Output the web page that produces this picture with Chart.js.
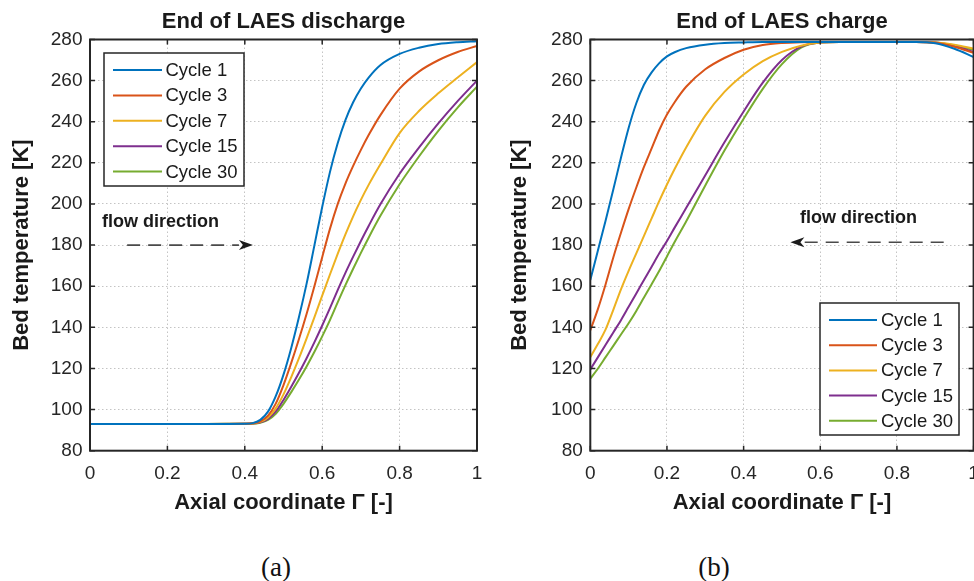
<!DOCTYPE html>
<html>
<head>
<meta charset="utf-8">
<script src="https://cdn.jsdelivr.net/npm/chart.js@4.4.1/dist/chart.umd.min.js"></script>
<style>
  body { margin: 0; background: #fff; width: 974px; height: 581px; overflow: hidden; position: relative; }
  canvas { position: absolute; top: 0; }
  #discharge-chart { left: 0; }
  #charge-chart { left: 497px; }
  .panel-label {
    position: absolute; top: 552px; width: 60px; margin-left: -30px; text-align: center;
    font: 27px "Liberation Serif", "Times New Roman", serif; line-height: 30px; color: #111;
  }
</style>
</head>
<body>
<canvas id="discharge-chart" width="487" height="520"></canvas>
<canvas id="charge-chart" width="477" height="520"></canvas>
<div class="panel-label" style="left:276px">(a)</div>
<div class="panel-label" style="left:714px">(b)</div>

<script>
const CYCLE_LABELS = ['Cycle 1', 'Cycle 3', 'Cycle 7', 'Cycle 15', 'Cycle 30'];
const CYCLE_COLORS = ['#0072BD', '#D95319', '#EDB120', '#7E2F8E', '#77AC30'];
const X_TICKS = [0, 0.2, 0.4, 0.6, 0.8, 1];
const Y_MIN = 80;
const Y_MAX = 280;
const Y_STEP = 20;

// (a) end of discharge
const X_DISCHARGE = [0, 0.1, 0.2, 0.3, 0.4, 0.42, 0.44, 0.46, 0.48, 0.5, 0.52, 0.54, 0.56, 0.58, 0.6,
    0.62, 0.64, 0.66, 0.68, 0.7, 0.72, 0.75, 0.8, 0.85, 0.9, 0.95, 1];
const DISCHARGE_C1 = [93, 93, 93, 93, 93.1, 93.4, 95, 99, 106.5, 117, 130, 145, 161.5, 180, 198.5,
    215.5, 229.5, 240.8, 249.5, 256.2, 261.5, 267.5, 273, 276, 277.8, 278.7, 279.2];
const DISCHARGE_C3 = [93, 93, 93, 93, 93.1, 93.3, 94.3, 97.1, 102.9, 111.9, 122.7, 134.3, 146.7, 160.1, 174.1,
    187.9, 199.9, 209.9, 218.5, 226.3, 233.5, 243.1, 256.1, 264.4, 269.9, 273.9, 276.9];
const DISCHARGE_C7 = [93, 93, 93, 93, 93.1, 93.2, 94, 96.2, 100.6, 107.4, 115.8, 125, 134.8, 145, 155.4,
    165.7, 175.7, 185.2, 194, 202, 209.3, 219.2, 234.5, 245.2, 253.8, 261.5, 269];
const DISCHARGE_C15 = [93, 93, 93, 93, 93.1, 93.2, 93.8, 95.5, 99.1, 104.7, 111.1, 117.9, 125.1, 132.8, 140.9,
    149.3, 158.1, 166.5, 174.4, 182, 189.3, 199.7, 214.7, 227.4, 239.2, 250, 260];
const DISCHARGE_C30 = [93, 93, 93, 93, 93.1, 93.1, 93.6, 95, 98, 102.8, 108.5, 114.6, 121.1, 128.1, 135.6,
    143.5, 152.1, 160.5, 168.5, 176.2, 183.6, 194.1, 209.6, 223.1, 235.6, 246.9, 257.1];

// (b) end of charge
const X_CHARGE = [0, 0.02, 0.04, 0.06, 0.08, 0.1, 0.12, 0.14, 0.16, 0.18, 0.2, 0.22, 0.25, 0.3, 0.35,
    0.4, 0.45, 0.5, 0.55, 0.6, 0.65, 0.7, 0.75, 0.8, 0.85, 0.9, 0.95, 1];
const CHARGE_C1 = [163, 177.5, 192, 207, 222.5, 237, 249, 258, 264, 268.5, 271.8, 273.8, 275.8, 277.5, 278.3,
    278.6, 278.8, 278.8, 278.8, 278.8, 278.8, 278.8, 278.8, 278.8, 278.8, 278.2, 275.5, 271.5];
const CHARGE_C3 = [138.5, 149, 161, 174, 186, 197.5, 208, 218, 227, 236, 243.5, 249.5, 257, 265.5, 271,
    275, 277.3, 278.3, 278.7, 278.8, 278.8, 278.8, 278.8, 278.8, 278.8, 278.4, 276.5, 273.5];
const CHARGE_C7 = [125.5, 132, 139, 148.5, 158.5, 167.5, 176, 184.5, 193, 201.5, 209.5, 217, 227.5, 243, 254.5,
    263, 269.5, 274, 277, 278.5, 278.8, 278.8, 278.8, 278.8, 278.8, 278.6, 277.5, 275.5];
const CHARGE_C15 = [119.5, 125.5, 131.5, 137.5, 143.5, 150, 156.5, 163, 169.5, 176, 182, 188.5, 198, 214, 230,
    245, 259, 270, 276.5, 278.5, 278.8, 278.8, 278.8, 278.8, 278.8, 278.5, 276.8, 274];
const CHARGE_C30 = [115, 120, 125.5, 131, 136.5, 142, 148, 154.5, 161, 167.5, 174.5, 181.5, 191.5, 209, 226,
    241.5, 256, 268, 276, 278.5, 278.8, 278.8, 278.8, 278.8, 278.8, 278.6, 277.2, 275];

const FONT = "'Liberation Sans', Arial, Helvetica, sans-serif";
const INK = '#262626';
Chart.defaults.font.family = FONT;
Chart.defaults.color = INK;

// box, inward ticks, legend and the flow-direction arrow
const panelDecor = {
    id: 'panelDecor',
    afterDatasetsDraw(chart, args, opts) {
        const { ctx, chartArea: a, scales: { x, y } } = chart;
        ctx.save();

        ctx.strokeStyle = INK;
        ctx.lineWidth = 1.5;
        ctx.beginPath();
        x.ticks.forEach(t => {
            const px = x.getPixelForValue(t.value);
            ctx.moveTo(px, a.bottom); ctx.lineTo(px, a.bottom - 5);
            ctx.moveTo(px, a.top); ctx.lineTo(px, a.top + 5);
        });
        y.ticks.forEach(t => {
            const py = y.getPixelForValue(t.value);
            ctx.moveTo(a.left, py); ctx.lineTo(a.left + 5, py);
            ctx.moveTo(a.right, py); ctx.lineTo(a.right - 5, py);
        });
        ctx.stroke();
        ctx.lineWidth = 2;
        ctx.strokeRect(a.left, a.top, a.right - a.left, a.bottom - a.top);

        const f = opts.flow;
        ctx.font = `bold 18px ${FONT}`;
        ctx.fillStyle = '#1a1a1a';
        ctx.textAlign = 'left';
        ctx.textBaseline = 'middle';
        ctx.fillText('flow direction', x.getPixelForValue(f.textX), y.getPixelForValue(f.textY));
        const x0 = x.getPixelForValue(f.from);
        const x1 = x.getPixelForValue(f.to);
        const ay = y.getPixelForValue(f.y);
        const dir = Math.sign(x1 - x0);
        const head = 14;
        ctx.strokeStyle = '#4a4a4a';
        ctx.lineWidth = 1.6;
        ctx.setLineDash([13, 8]);
        ctx.beginPath();
        ctx.moveTo(x0, ay);
        ctx.lineTo(x1 - dir * head, ay);
        ctx.stroke();
        ctx.setLineDash([]);
        ctx.fillStyle = '#1a1a1a';
        ctx.beginPath();
        ctx.moveTo(x1, ay);
        ctx.lineTo(x1 - dir * head, ay - 5);
        ctx.lineTo(x1 - dir * (head - 4), ay);
        ctx.lineTo(x1 - dir * head, ay + 5);
        ctx.closePath();
        ctx.fill();

        const lg = opts.legend;
        ctx.fillStyle = '#fff';
        ctx.fillRect(lg.left, lg.top, lg.width, lg.height);
        ctx.strokeStyle = INK;
        ctx.lineWidth = 1.5;
        ctx.strokeRect(lg.left, lg.top, lg.width, lg.height);
        ctx.font = `18.5px ${FONT}`;
        chart.data.datasets.forEach((ds, i) => {
            const ry = lg.rowTop + i * lg.rowGap;
            ctx.strokeStyle = ds.borderColor;
            ctx.lineWidth = 2;
            ctx.beginPath();
            ctx.moveTo(lg.lineFrom, ry);
            ctx.lineTo(lg.lineTo, ry);
            ctx.stroke();
            ctx.fillStyle = '#1a1a1a';
            ctx.fillText(ds.label, lg.textX, ry + 1);
        });

        ctx.restore();
    }
};

function makePanel(canvasId, title, xs, series, yAxisWidth, yTitlePad, padRight, decor) {
    const datasets = series.map((ys, i) => ({
        label: CYCLE_LABELS[i],
        data: xs.map((xv, j) => ({ x: xv, y: ys[j] })),
        borderColor: CYCLE_COLORS[i],
        borderWidth: 2,
        pointRadius: 0,
        cubicInterpolationMode: 'monotone',
        fill: false
    }));

    return new Chart(document.getElementById(canvasId), {
        type: 'line',
        data: { datasets },
        plugins: [panelDecor],
        options: {
            responsive: false,
            animation: false,
            layout: { padding: { left: 0, right: padRight, top: 0, bottom: 0 } },
            plugins: {
                legend: { display: false },
                tooltip: { enabled: false },
                title: {
                    display: true,
                    text: title,
                    fullSize: false,
                    color: '#1a1a1a',
                    font: { size: 22, weight: 'bold' },
                    padding: { top: 8.5, bottom: 4.6 }
                },
                panelDecor: decor
            },
            scales: {
                x: {
                    type: 'linear',
                    min: 0,
                    max: 1,
                    afterBuildTicks: scale => { scale.ticks = X_TICKS.map(v => ({ value: v })); },
                    afterFit: scale => {
                        scale.height = 69.3;
                        scale.paddingLeft = 0;
                        scale.paddingRight = 0;
                    },
                    ticks: {
                        font: { size: 19 },
                        padding: 11.5,
                        maxRotation: 0,
                        callback: v => String(+v.toFixed(1))
                    },
                    grid: { color: '#c4c4c4', lineWidth: 1, drawTicks: false },
                    border: { display: false, dash: [1.5, 2.5] },
                    title: {
                        display: true,
                        text: 'Axial coordinate Γ [-]',
                        color: '#1a1a1a',
                        font: { size: 22, weight: 'bold' },
                        padding: { top: 0, bottom: 3.5 }
                    }
                },
                y: {
                    type: 'linear',
                    min: Y_MIN,
                    max: Y_MAX,
                    afterFit: scale => {
                        scale.width = yAxisWidth;
                        scale.paddingTop = 0;
                        scale.paddingBottom = 0;
                    },
                    ticks: { stepSize: Y_STEP, font: { size: 19 }, padding: 7.5 },
                    grid: { color: '#c4c4c4', lineWidth: 1, drawTicks: false },
                    border: { display: false, dash: [1.5, 2.5] },
                    title: {
                        display: true,
                        text: 'Bed temperature [K]',
                        color: '#1a1a1a',
                        font: { size: 22, weight: 'bold' },
                        padding: { top: yTitlePad, bottom: 0 }
                    }
                }
            }
        }
    });
}

makePanel('discharge-chart', 'End of LAES discharge', X_DISCHARGE,
    [DISCHARGE_C1, DISCHARGE_C3, DISCHARGE_C7, DISCHARGE_C15, DISCHARGE_C30],
    90, 8.8, 10,
    {
        flow: { textX: 0.031, textY: 191.2, from: 0.096, to: 0.421, y: 180 },
        legend: { left: 104, top: 53, width: 140, height: 133, rowTop: 70, rowGap: 25.4, lineFrom: 113, lineTo: 162, textX: 165.5 }
    });

makePanel('charge-chart', 'End of LAES charge', X_CHARGE,
    [CHARGE_C1, CHARGE_C3, CHARGE_C7, CHARGE_C15, CHARGE_C30],
    93.3, 9.8, 0.4,
    {
        flow: { textX: 0.547, textY: 193.2, from: 0.922, to: 0.522, y: 181.4 },
        legend: { left: 323, top: 303, width: 139, height: 132, rowTop: 320, rowGap: 25.2, lineFrom: 332, lineTo: 380, textX: 384 }
    });
</script>
</body>
</html>
